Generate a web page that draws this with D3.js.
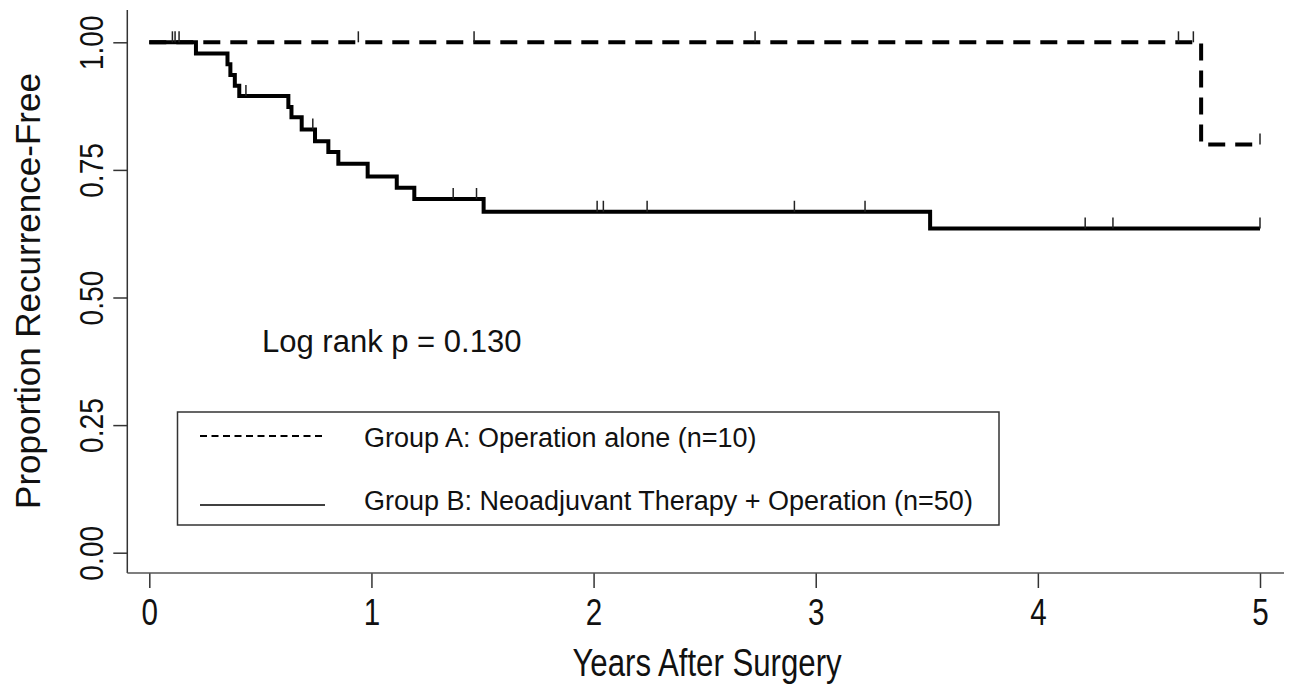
<!DOCTYPE html>
<html>
<head>
<meta charset="utf-8">
<script src="https://cdnjs.cloudflare.com/ajax/libs/d3/7.8.5/d3.min.js"></script>
<style>
  html, body { margin: 0; padding: 0; background: #fff; }
  svg { display: block; font-family: "Liberation Sans", Arial, sans-serif; }
</style>
</head>
<body>
<svg id="chart" width="1294" height="688"></svg>
<script>
'use strict';

// Kaplan-Meier steps
var groupAEventTimes = [4.735];
var groupASurvival = [0.80];
var groupACensorTimes = [0.941, 1.462, 2.727, 4.633, 4.70, 5.0];

var groupBEventTimes = [0.210, 0.352, 0.365, 0.385, 0.405, 0.626, 0.640, 0.686, 0.746,
	0.806, 0.851, 0.983, 1.114, 1.193, 1.505, 3.515];
var groupBSurvival = [0.978, 0.957, 0.936, 0.915, 0.895, 0.873, 0.853, 0.829, 0.806,
	0.785, 0.762, 0.737, 0.715, 0.693, 0.668, 0.635];
var groupBCensorTimes = [0.104, 0.116, 0.134, 0.435, 0.736, 1.368, 1.473, 2.016, 2.044,
	2.241, 2.904, 3.222, 4.213, 4.338, 5.0];

var xTicks = [0, 1, 2, 3, 4, 5];
var yTicks = [0, 0.25, 0.5, 0.75, 1];
var legendLabels = ['Group A: Operation alone (n=10)', 'Group B: Neoadjuvant Therapy + Operation (n=50)'];
var pValueLabel = 'Log rank p = 0.130';

var svg = d3.select('#chart');
var x = d3.scaleLinear().domain([0, 5]).range([149.3, 1260]);
var y = d3.scaleLinear().domain([0, 1]).range([552.7, 42.3]);
var axisX = 127.3, axisY = 573;

function stepPoints(times, surv) {
	var pts = [[0, 1]];
	times.forEach(function(t, i) { pts.push([t, surv[i]]); });
	pts.push([5, surv[surv.length - 1]]);
	return pts;
}
function survAt(times, surv, t) {
	var s = 1;
	times.forEach(function(et, i) { if (et <= t) s = surv[i]; });
	return s;
}

var line = d3.line()
	.x(function(d) { return x(d[0]); })
	.y(function(d) { return y(d[1]); })
	.curve(d3.curveStepAfter);

// axes
var gy = svg.append('g').attr('transform', 'translate(' + axisX + ',0)')
	.call(d3.axisLeft(y).tickValues(yTicks).tickFormat(d3.format('.2f')).tickSize(14).tickPadding(0));
gy.select('.domain').remove();
gy.selectAll('.tick line').attr('stroke', '#333').attr('stroke-width', 1.5);
gy.selectAll('.tick text')
	.attr('x', null).attr('dy', null)
	.attr('transform', 'translate(-24,0) rotate(-90) scale(0.83,1)')
	.attr('text-anchor', 'middle')
	.attr('font-size', 34).attr('fill', '#111');

var gx = svg.append('g').attr('transform', 'translate(0,' + axisY + ')')
	.call(d3.axisBottom(x).tickValues(xTicks).tickFormat(d3.format('d')).tickSize(15).tickPadding(0));
gx.select('.domain').remove();
gx.selectAll('.tick line').attr('stroke', '#333').attr('stroke-width', 1.5);
gx.selectAll('.tick text')
	.attr('y', null).attr('dy', null)
	.attr('transform', 'translate(0,52) scale(0.8,1)')
	.attr('font-size', 37).attr('fill', '#111');

svg.append('line').attr('x1', axisX).attr('x2', axisX).attr('y1', 10).attr('y2', axisY)
	.attr('stroke', '#333').attr('stroke-width', 1.5);
svg.append('line').attr('x1', axisX).attr('x2', 1284).attr('y1', axisY).attr('y2', axisY)
	.attr('stroke', '#555').attr('stroke-width', 1.5);

// axis titles
svg.append('text')
	.attr('transform', 'translate(707,676) scale(0.8,1)')
	.attr('text-anchor', 'middle').attr('font-size', 39).attr('fill', '#111')
	.text('Years After Surgery');
svg.append('text')
	.attr('transform', 'translate(40,291) rotate(-90)')
	.attr('text-anchor', 'middle').attr('font-size', 35).attr('fill', '#111')
	.text('Proportion Recurrence-Free');

// curves
svg.append('path').datum(stepPoints(groupAEventTimes, groupASurvival))
	.attr('d', line).attr('fill', 'none').attr('stroke', '#000')
	.attr('stroke-width', 4).attr('stroke-dasharray', '17,10');
svg.append('path').datum(stepPoints(groupBEventTimes, groupBSurvival))
	.attr('d', line).attr('fill', 'none').attr('stroke', '#000')
	.attr('stroke-width', 4);

// censoring marks
function censorMarks(times, eTimes, surv) {
	svg.append('g').selectAll('line').data(times).enter().append('line')
		.attr('x1', function(t) { return x(t); })
		.attr('x2', function(t) { return x(t); })
		.attr('y1', function(t) { return y(survAt(eTimes, surv, t)); })
		.attr('y2', function(t) { return y(survAt(eTimes, surv, t)) - 11; })
		.attr('stroke', '#222').attr('stroke-width', 1.5);
}
censorMarks(groupACensorTimes, groupAEventTimes, groupASurvival);
censorMarks(groupBCensorTimes, groupBEventTimes, groupBSurvival);

// annotation
svg.append('text').attr('x', 262).attr('y', 352)
	.attr('font-size', 31).attr('fill', '#111').text(pValueLabel);

// legend
var legend = svg.append('g');
legend.append('rect').attr('x', 177.5).attr('y', 412).attr('width', 821.5).attr('height', 113)
	.attr('fill', 'none').attr('stroke', '#333').attr('stroke-width', 1.5);
var legendY = [436, 505];
legend.selectAll('line.key').data(legendLabels).enter().append('line')
	.attr('x1', 200).attr('x2', 325)
	.attr('y1', function(d, i) { return legendY[i]; })
	.attr('y2', function(d, i) { return legendY[i]; })
	.attr('stroke', '#000')
	.attr('stroke-width', function(d, i) { return i === 0 ? 2 : 1.5; })
	.attr('stroke-dasharray', function(d, i) { return i === 0 ? '7,4.5' : null; });
legend.selectAll('text').data(legendLabels).enter().append('text')
	.attr('x', 364)
	.attr('y', function(d, i) { return [447, 510][i]; })
	.attr('font-size', 27).attr('fill', '#111')
	.text(function(d) { return d; });
</script>
</body>
</html>
